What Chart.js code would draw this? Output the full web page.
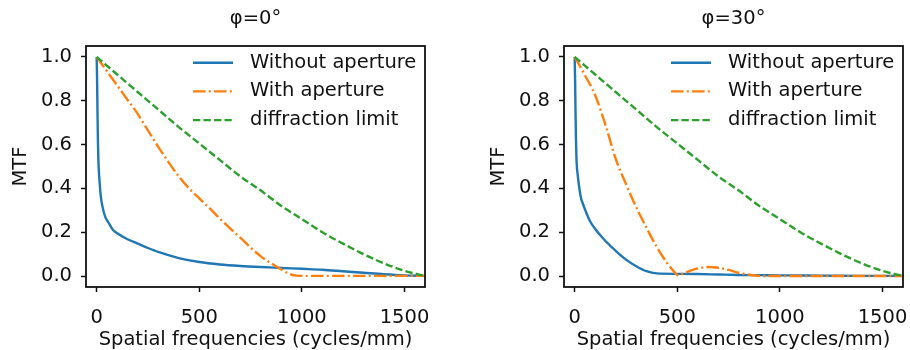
<!DOCTYPE html>
<html>
<head>
<meta charset="utf-8">
<script src="https://cdn.jsdelivr.net/npm/chart.js@4.4.0/dist/chart.umd.min.js"></script>
<style>
  html, body { margin: 0; padding: 0; background: #fff; }
  .panel { position: absolute; top: 0; width: 440px; height: 350px; }
</style>
</head>
<body>
<div class="panel" style="left:0"><canvas id="mtf-0" width="440" height="350"></canvas></div>
<div class="panel" style="left:478px"><canvas id="mtf-30" width="440" height="350"></canvas></div>
<script>
// tick labels
const X_TICKS = [0, 500, 1000, 1500];
const Y_TICKS = [0, 0.2, 0.4, 0.6, 0.8, 1.0];

// diffraction limit (same in both panels)
const DIFF_FREQ = [0, 100, 200, 300, 400, 500, 600, 700, 800, 900, 1000, 1100, 1200, 1300, 1400, 1500, 1600];
const DIFF_LIMIT = [1.0, 0.92, 0.84, 0.76, 0.68, 0.605, 0.53, 0.455, 0.39, 0.32, 0.26, 0.20, 0.148, 0.1, 0.058, 0.024, 0.0];

// phi = 0 deg
const NOAP0_FREQ = [0, 2, 4, 6, 8, 10, 15, 20, 30, 40, 50, 60, 80, 100, 150, 200, 250, 300, 400, 500, 600, 700, 800, 900, 1000, 1100, 1200, 1300, 1400, 1500, 1600];
const NOAP0 = [1.0, 0.9, 0.75, 0.62, 0.54, 0.49, 0.42, 0.365, 0.31, 0.275, 0.255, 0.24, 0.21, 0.195, 0.168, 0.148, 0.128, 0.11, 0.082, 0.064, 0.053, 0.046, 0.041, 0.037, 0.033, 0.029, 0.022, 0.015, 0.008, 0.003, 0.001];
const AP0_FREQ = [0, 50, 100, 150, 200, 250, 300, 350, 400, 450, 500, 550, 600, 650, 700, 750, 800, 850, 900, 925, 950, 975, 1000, 1100, 1200, 1300, 1400, 1500, 1600];
const AP0 = [1.0, 0.935, 0.87, 0.805, 0.74, 0.665, 0.59, 0.52, 0.455, 0.40, 0.355, 0.31, 0.262, 0.218, 0.175, 0.13, 0.09, 0.058, 0.03, 0.016, 0.006, 0.002, 0.001, 0.001, 0.001, 0.001, 0.001, 0.001, 0.001];

// phi = 30 deg
const NOAP30_FREQ = [0, 2, 4, 6, 8, 10, 15, 20, 30, 40, 50, 75, 100, 125, 150, 200, 250, 300, 350, 400, 500, 600, 700, 800, 900, 1000, 1200, 1400, 1600];
const NOAP30 = [1.0, 0.9, 0.76, 0.64, 0.56, 0.51, 0.46, 0.42, 0.36, 0.33, 0.305, 0.25, 0.215, 0.186, 0.16, 0.115, 0.075, 0.045, 0.022, 0.012, 0.01, 0.009, 0.007, 0.005, 0.004, 0.003, 0.002, 0.001, 0.001];
const AP30_FREQ = [0, 50, 100, 150, 200, 250, 300, 350, 400, 450, 480, 505, 530, 560, 600, 650, 700, 750, 800, 850, 900, 1000, 1200, 1400, 1600];
const AP30 = [1.0, 0.917, 0.825, 0.69, 0.535, 0.42, 0.314, 0.22, 0.133, 0.06, 0.025, 0.003, 0.012, 0.023, 0.035, 0.041, 0.038, 0.028, 0.015, 0.006, 0.001, 0.0, 0.0, 0.0, 0.0];

const FONT_SIZE = 19.5;
const FONT = FONT_SIZE + "px 'DejaVu Sans', sans-serif";
const INK = '#111';

Chart.defaults.font.family = "'DejaVu Sans', sans-serif";
Chart.defaults.font.size = FONT_SIZE;
Chart.defaults.color = INK;

const toPoints = (xs, ys) => xs.map((x, i) => ({ x: x, y: ys[i] }));

// title centred over the plot area
const panelTitle = {
  id: 'panelTitle',
  afterDraw(chart, args, opts) {
    const { ctx, chartArea } = chart;
    ctx.save();
    ctx.font = FONT;
    ctx.fillStyle = INK;
    ctx.textAlign = 'center';
    ctx.textBaseline = 'middle';
    ctx.fillText(opts.text, (chartArea.left + chartArea.right) / 2, 18.5);
    ctx.restore();
  }
};

// black box round the plot area
const frame = {
  id: 'frame',
  afterDatasetsDraw(chart) {
    const { ctx, chartArea } = chart;
    ctx.save();
    ctx.strokeStyle = INK;
    ctx.lineWidth = 1.8;
    ctx.strokeRect(chartArea.left, chartArea.top, chartArea.right - chartArea.left, chartArea.bottom - chartArea.top);
    ctx.restore();
  }
};

// legend in the top right corner of the plot, no box
const innerLegend = {
  id: 'innerLegend',
  afterDraw(chart) {
    const { ctx, chartArea } = chart;
    const r = chartArea.right;
    ctx.save();
    ctx.font = FONT;
    ctx.textBaseline = 'middle';
    chart.data.datasets.forEach((ds, i) => {
      const y = chartArea.top + 16.7 + i * 28.7;
      ctx.strokeStyle = ds.borderColor;
      ctx.lineWidth = ds.borderWidth;
      ctx.setLineDash(ds.borderDash || []);
      ctx.beginPath();
      ctx.moveTo(r - 232, y);
      ctx.lineTo(r - 192, y);
      ctx.stroke();
      ctx.setLineDash([]);
      ctx.fillStyle = INK;
      ctx.fillText(ds.label, r - 175, y);
    });
    ctx.restore();
  }
};

const axisGrid = { drawOnChartArea: false, tickLength: 5, tickWidth: 1.5, tickColor: INK };

function makeChart(id, title, noApFreq, noAp, apFreq, ap) {
  const line = { borderWidth: 2.4, pointRadius: 0, fill: false, cubicInterpolationMode: 'monotone' };
  return new Chart(id, {
    type: 'line',
    data: {
      datasets: [
        Object.assign({ label: 'Without aperture', data: toPoints(noApFreq, noAp), borderColor: '#1f77b4', order: 3 }, line),
        Object.assign({ label: 'With aperture', data: toPoints(apFreq, ap), borderColor: '#ff7f0e', borderDash: [12.6, 3.2, 2, 3.2], order: 2 }, line),
        Object.assign({ label: 'diffraction limit', data: toPoints(DIFF_FREQ, DIFF_LIMIT), borderColor: '#2ca02c', borderDash: [7.3, 3.2], order: 1 }, line)
      ]
    },
    options: {
      responsive: false,
      animation: false,
      layout: { padding: { top: 46, right: 15, left: 0, bottom: 0 } },
      plugins: {
        legend: { display: false },
        tooltip: { enabled: false },
        panelTitle: { text: title }
      },
      scales: {
        x: {
          type: 'linear',
          min: -52,
          max: 1600,
          afterBuildTicks: s => { s.ticks = X_TICKS.map(v => ({ value: v })); },
          afterFit: s => { s.height = 63; s.paddingLeft = 0; s.paddingRight = 0; },
          ticks: { padding: 14, maxRotation: 0, callback: v => String(v) },
          grid: axisGrid,
          border: { display: false },
          title: { display: true, text: 'Spatial frequencies (cycles/mm)', padding: { top: 0, bottom: -2 } }
        },
        y: {
          min: -0.05,
          max: 1.05,
          afterBuildTicks: s => { s.ticks = Y_TICKS.map(v => ({ value: v })); },
          afterFit: s => { s.width = 86; },
          ticks: { padding: 9, callback: v => v.toFixed(1) },
          grid: axisGrid,
          border: { display: false },
          title: { display: true, text: 'MTF', padding: { top: 9, bottom: 0 } }
        }
      }
    },
    plugins: [panelTitle, frame, innerLegend]
  });
}

makeChart('mtf-0', 'φ=0°', NOAP0_FREQ, NOAP0, AP0_FREQ, AP0);
makeChart('mtf-30', 'φ=30°', NOAP30_FREQ, NOAP30, AP30_FREQ, AP30);
</script>
</body>
</html>
